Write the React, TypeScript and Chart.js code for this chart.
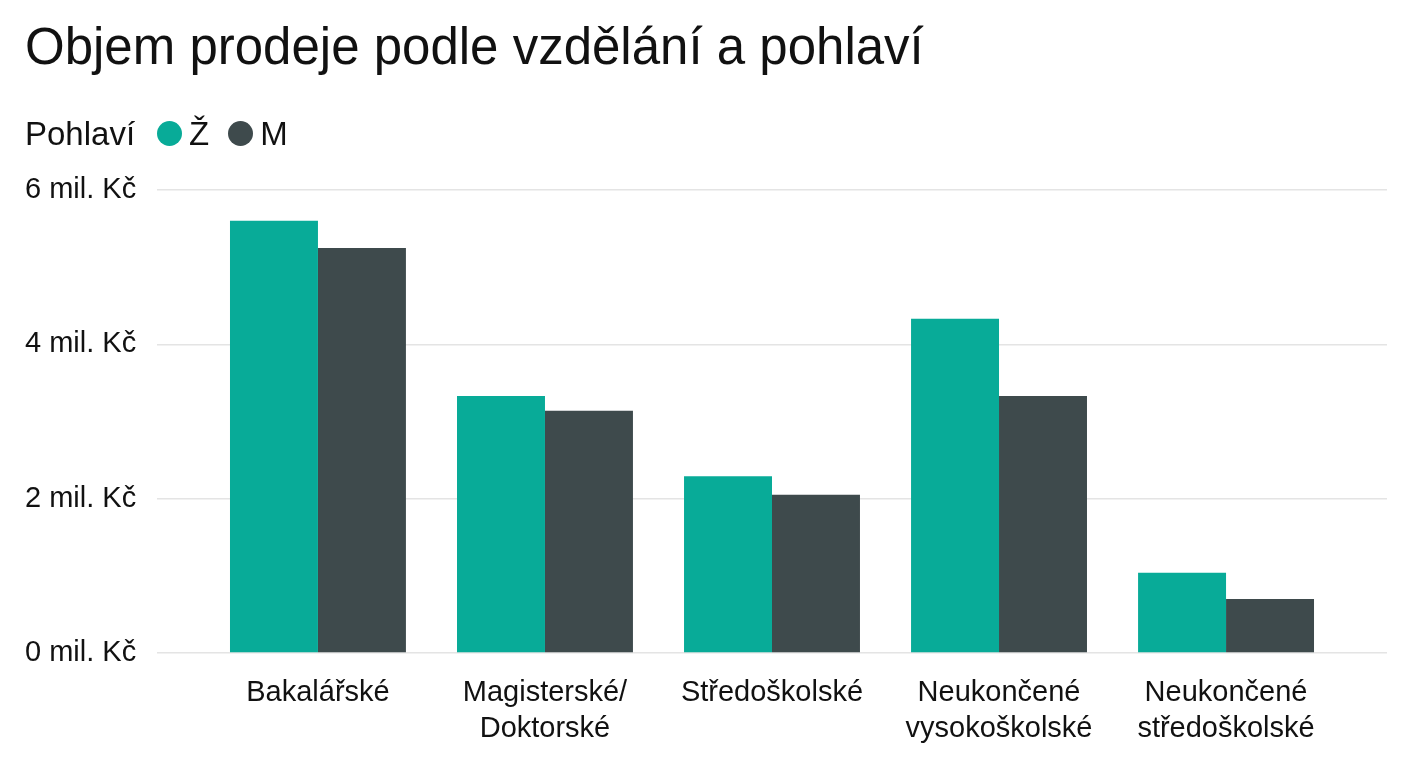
import React, { useEffect, useRef } from "react";
import { Chart, registerables } from "chart.js";

Chart.register(...registerables);

const title = "Objem prodeje podle vzdělání a pohlaví";
const legendTitle = "Pohlaví";
const categories: (string | string[])[] = [
  "Bakalářské",
  ["Magisterské/", "Doktorské"],
  "Středoškolské",
  ["Neukončené", "vysokoškolské"],
  ["Neukončené", "středoškolské"],
];
const seriesNames = ["Ž", "M"];
const seriesColors = ["#08AB98", "#3E4A4C"];
const zenyValues = [5.6, 3.33, 2.29, 4.33, 1.04];
const muziValues = [5.25, 3.14, 2.05, 3.33, 0.7];
const yTicks = [0, 2, 4, 6];
const yUnit = "mil. Kč";

const FONT = "'Liberation Sans', Arial, sans-serif";

export default function App() {
  const canvasRef = useRef<HTMLCanvasElement | null>(null);

  useEffect(() => {
    if (!canvasRef.current) return;
    const toPoints = (vals: number[]) => vals.map((v, i) => ({ x: i, y: v }));
    const chart = new Chart(canvasRef.current, {
      type: "bar",
      data: {
        datasets: [
          {
            label: seriesNames[0],
            data: toPoints(zenyValues),
            backgroundColor: seriesColors[0],
            categoryPercentage: 0.775,
            barPercentage: 1,
          },
          {
            label: seriesNames[1],
            data: toPoints(muziValues),
            backgroundColor: seriesColors[1],
            categoryPercentage: 0.775,
            barPercentage: 1,
          },
        ] as any,
      },
      options: {
        animation: false,
        responsive: true,
        maintainAspectRatio: false,
        layout: { padding: { left: 25, right: 21, top: 190, bottom: 0 } },
        plugins: {
          legend: { display: false },
          title: { display: false },
          tooltip: { enabled: false },
        },
        scales: {
          x: {
            type: "linear",
            offset: false,
            min: -0.709,
            max: categories.length - 1 + 0.709,
            grid: { display: false, offset: false },
            border: { display: false },
            afterBuildTicks: (axis: any) => {
              axis.ticks = categories.map((_, i) => ({ value: i }));
            },
            afterFit: (axis: any) => {
              axis.height = 115;
            },
            ticks: {
              autoSkip: false,
              maxRotation: 0,
              minRotation: 0,
              padding: 14,
              color: "#111111",
              font: { family: FONT, size: 29, lineHeight: 1.25 },
              callback: (value: any) => categories[Math.round(Number(value))] as any,
            },
          },
          y: {
            min: yTicks[0],
            max: yTicks[yTicks.length - 1],
            afterBuildTicks: (axis: any) => {
              axis.ticks = yTicks.map((v) => ({ value: v }));
            },
            afterFit: (axis: any) => {
              axis.width = 132;
            },
            grid: { color: "#E4E4E4", lineWidth: 1.5, drawTicks: false },
            border: { display: false },
            ticks: {
              crossAlign: "far",
              padding: 20,
              color: "#111111",
              font: { family: FONT, size: 29 },
              callback: (value: any) => `${value} ${yUnit}`,
            },
          },
        },
      } as any,
    });
    return () => chart.destroy();
  }, []);

  return (
    <div
      style={{
        position: "absolute",
        left: 0,
        top: 0,
        width: 1408,
        height: 768,
        background: "#ffffff",
        fontFamily: FONT,
        color: "#111111",
        overflow: "hidden",
      }}
    >
      <div style={{ position: "absolute", left: 0, top: 0, width: 1408, height: 768 }}>
        <canvas ref={canvasRef} />
      </div>
      <div
        style={{
          position: "absolute",
          left: 25,
          top: 21,
          fontSize: 51,
          lineHeight: "51px",
          whiteSpace: "nowrap",
        }}
      >
        {title}
      </div>
      <div
        style={{
          position: "absolute",
          left: 25,
          top: 117,
          height: 33,
          display: "flex",
          alignItems: "center",
          fontSize: 33,
          lineHeight: "33px",
          whiteSpace: "nowrap",
        }}
      >
        <span style={{ marginRight: 22 }}>{legendTitle}</span>
        {seriesNames.map((name, i) => (
          <span key={name} style={{ display: "flex", alignItems: "center", marginRight: 19 }}>
            <span
              style={{
                display: "inline-block",
                width: 25,
                height: 25,
                borderRadius: "50%",
                background: seriesColors[i],
                marginRight: 7,
              }}
            />
            <span>{name}</span>
          </span>
        ))}
      </div>
    </div>
  );
}
